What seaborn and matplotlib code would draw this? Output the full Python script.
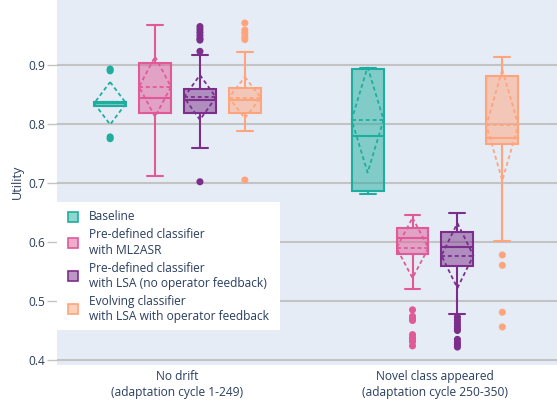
"""Utility distribution per adaptation phase, boxes with mean +/- sd diamonds."""

import matplotlib

matplotlib.use("Agg")

import matplotlib.pyplot as plt
import numpy as np
import pandas as pd
import seaborn as sns
from matplotlib.patches import Rectangle

# ---- data ----
categories = [
    "No drift\n(adaptation cycle 1-249)",
    "Novel class appeared\n(adaptation cycle 250-350)",
]
methods = [
    "Baseline",
    "Pre-defined classifier\nwith ML2ASR",
    "Pre-defined classifier\nwith LSA (no operator feedback)",
    "Evolving classifier\nwith LSA with operator feedback",
]
colors = ["#1fae9e", "#e05a98", "#7b2f8a", "#ffa47c"]

# one value per category: [no drift, novel class]
baseline_q1 = [0.831, 0.687]
baseline_med = [0.835, 0.780]
baseline_q3 = [0.838, 0.893]
baseline_lo = [0.831, 0.682]
baseline_hi = [0.838, 0.895]
baseline_mean = [0.835, 0.807]
baseline_sd = [0.036, 0.0895]
baseline_out = [[0.893, 0.890, 0.778, 0.775], []]

ml2asr_q1 = [0.819, 0.580]
ml2asr_med = [0.8435, 0.606]
ml2asr_q3 = [0.903, 0.623]
ml2asr_lo = [0.711, 0.520]
ml2asr_hi = [0.967, 0.646]
ml2asr_mean = [0.863, 0.590]
ml2asr_sd = [0.051, 0.051]
ml2asr_out = [[], [0.485, 0.474, 0.470, 0.467, 0.443, 0.438, 0.434, 0.431, 0.424]]

lsa_q1 = [0.819, 0.560]
lsa_med = [0.840, 0.592]
lsa_q3 = [0.860, 0.6175]
lsa_lo = [0.760, 0.478]
lsa_hi = [0.916, 0.649]
lsa_mean = [0.845, 0.577]
lsa_sd = [0.038, 0.055]
lsa_out = [
    [0.923, 0.965, 0.960, 0.955, 0.950, 0.945, 0.942, 0.702],
    [0.473, 0.468, 0.463, 0.458, 0.454, 0.450, 0.435, 0.430, 0.426, 0.422],
]

evolving_q1 = [0.818, 0.7656]
evolving_med = [0.8407, 0.777]
evolving_q3 = [0.8616, 0.8814]
evolving_lo = [0.788, 0.602]
evolving_hi = [0.922, 0.914]
evolving_mean = [0.8446, 0.798]
evolving_sd = [0.035, 0.094]
evolving_out = [[0.971, 0.959, 0.954, 0.948, 0.943, 0.705], [0.578, 0.5605, 0.481, 0.456]]

yticks = [0.4, 0.5, 0.6, 0.7, 0.8, 0.9]

# ---- styling ----
W, H = 557, 403
TEXT = "#2a3f5f"
GRID = "#c3c3c3"
BG = "#e5ecf6"
FS = 8.64  # 12 px

sns.set_theme(style="white")
plt.rcParams["font.family"] = ["Open Sans", "DejaVu Sans"]

fig = plt.figure(figsize=(W / 100, H / 100), dpi=100)
ax_left, ax_right, ax_top, ax_bottom = 57, 557, 0, 364.5
ax = fig.add_axes([ax_left / W, 1 - ax_bottom / H, (ax_right - ax_left) / W, (ax_bottom - ax_top) / H])
ax.set_facecolor(BG)
for s in ax.spines.values():
    s.set_visible(False)

offsets = [-0.2616, -0.0872, 0.0872, 0.2616]
box_w = 0.124

groups = [
    (baseline_q1, baseline_med, baseline_q3, baseline_lo, baseline_hi, baseline_mean, baseline_sd, baseline_out),
    (ml2asr_q1, ml2asr_med, ml2asr_q3, ml2asr_lo, ml2asr_hi, ml2asr_mean, ml2asr_sd, ml2asr_out),
    (lsa_q1, lsa_med, lsa_q3, lsa_lo, lsa_hi, lsa_mean, lsa_sd, lsa_out),
    (evolving_q1, evolving_med, evolving_q3, evolving_lo, evolving_hi, evolving_mean, evolving_sd, evolving_out),
]

flier_rows = []
for k, (q1, med, q3, lo, hi, mean, sd, out) in enumerate(groups):
    col = colors[k]
    stats = []
    pos = []
    for c in range(len(categories)):
        stats.append(dict(q1=q1[c], med=med[c], q3=q3[c], whislo=lo[c], whishi=hi[c], mean=mean[c], fliers=[]))
        pos.append(c + offsets[k])
        for v in out[c]:
            flier_rows.append({"x": c + offsets[k], "y": v, "method": methods[k]})
    ax.bxp(
        stats,
        positions=pos,
        widths=box_w,
        patch_artist=True,
        showfliers=False,
        showmeans=False,
        boxprops=dict(facecolor=matplotlib.colors.to_rgba(col, 0.5), edgecolor=col, linewidth=1.5),
        medianprops=dict(color=col, linewidth=1.5),
        whiskerprops=dict(color=col, linewidth=1.5),
        capprops=dict(color=col, linewidth=1.5),
        capwidths=box_w / 2,
        zorder=3,
    )
    # mean line and sd diamond
    for c in range(len(categories)):
        x0 = c + offsets[k]
        hw = box_w / 2
        m, s = mean[c], sd[c]
        ax.plot([x0 - hw, x0 + hw], [m, m], color=col, lw=1.3, ls=(0, (2.2, 1.6)), zorder=4)
        ax.plot(
            [x0, x0 + hw, x0, x0 - hw, x0],
            [m + s, m, m - s, m, m + s],
            color=col, lw=1.3, ls=(0, (2.2, 1.6)), zorder=4,
        )

fliers = pd.DataFrame(flier_rows)
sns.scatterplot(
    data=fliers, x="x", y="y", hue="method", hue_order=methods,
    palette=colors, s=26, linewidth=0, legend=False, ax=ax, zorder=5,
)

ax.set_xlim(-0.468, 1.474)
ax.set_ylim(0.3924, 1.01)
ax.set_yticks(yticks)
ax.set_yticklabels([f"{t:.1f}" for t in yticks])
ax.set_xticks(range(len(categories)))
ax.set_xticklabels(categories, linespacing=1.25)
ax.yaxis.grid(True, color=GRID, lw=1.5, zorder=0)
ax.set_axisbelow(True)
ax.tick_params(axis="y", length=7.2, width=1, color=GRID, colors=TEXT, labelsize=FS, pad=1.5, direction="out", left=True)
ax.tick_params(axis="y", color=GRID)
ax.tick_params(axis="x", length=0, colors=TEXT, labelsize=FS, pad=4)
ax.set_xlabel("")
ax.set_ylabel("Utility", color=TEXT, fontsize=9.2, labelpad=3)


# ---- legend drawn in pixel coordinates ----
def px(x, y):
    return x / W, 1 - y / H


lx0, ly0, lx1, ly1 = 57.3, 202.3, 280, 330
fig.patches.append(
    Rectangle(px(lx0, ly1), (lx1 - lx0) / W, (ly1 - ly0) / H, transform=fig.transFigure,
              facecolor="white", edgecolor="none", zorder=10)
)
marker_y = [216.7, 242.7, 275.7, 309.3]
line_y = [[216.7], [235, 250], [268.3, 283.3], [301.7, 316.7]]
for k, name in enumerate(methods):
    col = colors[k]
    mx, my = px(68, marker_y[k] + 5)
    fig.patches.append(
        Rectangle((mx, my), 10 / W, 10 / H, transform=fig.transFigure,
                  facecolor=matplotlib.colors.to_rgba(col, 0.5), edgecolor=col, lw=1.2, zorder=11)
    )
    for line, yy in zip(name.split("\n"), line_y[k]):
        tx, ty = px(89, yy)
        fig.text(tx, ty, line, color=TEXT, fontsize=FS, va="center", ha="left", zorder=12)

fig.savefig("out.png", dpi=100)
